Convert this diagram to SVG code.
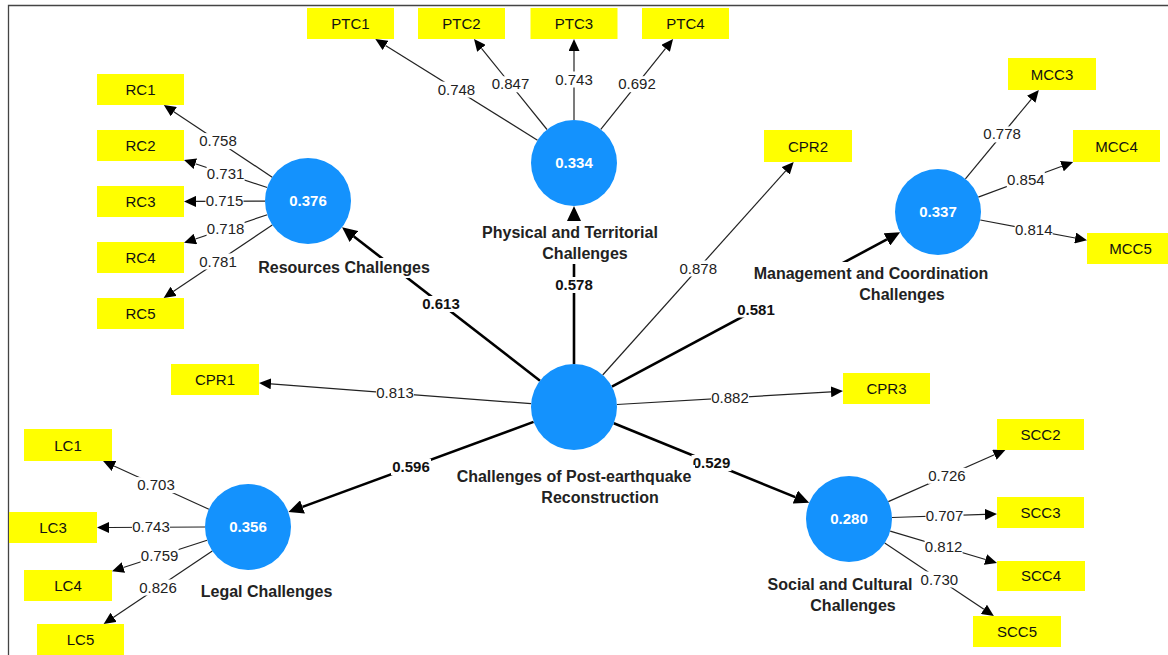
<svg xmlns="http://www.w3.org/2000/svg" width="1168" height="655" viewBox="0 0 1168 655">
<style>
  text { font-family: "Liberation Sans", Arial, sans-serif; }
  .ind { fill: #ffff00; }
  .indt { font-size: 15px; fill: #111; text-anchor: middle; }
  .lat { fill: #1492fd; }
  .latv { font-size: 15px; font-weight: bold; fill: #ffffff; text-anchor: middle; }
  .latn { font-size: 16px; font-weight: bold; fill: #222; text-anchor: middle; }
  .bg { fill: #ffffff; }
  .thin { stroke: #222; stroke-width: 1.2; fill: none; marker-end: url(#a); }
  .thick { stroke: #000; stroke-width: 2.6; fill: none; marker-end: url(#b); }
  .lt { font-size: 15px; fill: #222; text-anchor: middle; }
  .lb { font-size: 15px; font-weight: bold; fill: #111; text-anchor: middle; }
</style>
<defs>
  <marker id="a" viewBox="0 0 12 11" refX="0" refY="5.5" markerWidth="12" markerHeight="11" markerUnits="userSpaceOnUse" orient="auto">
    <path d="M0,0 L12,5.5 L0,11 z" fill="#000"/>
  </marker>
  <marker id="b" viewBox="0 0 15 14" refX="0" refY="7" markerWidth="15" markerHeight="14" markerUnits="userSpaceOnUse" orient="auto">
    <path d="M0,0 L15,7 L0,14 z" fill="#000"/>
  </marker>
</defs>
<rect x="0" y="0" width="1168" height="655" fill="#ffffff"/>
<path d="M8.5,655 L8.5,5.5 L1168,5.5" fill="none" stroke="#444" stroke-width="1.3"/>

<g id="connectors">
  <line class="thin" x1="272.2" y1="177.2" x2="173.8" y2="111.7"/>
  <line class="thin" x1="267.2" y1="187.5" x2="195.4" y2="163.7"/>
  <line class="thin" x1="265" y1="201.1" x2="196" y2="201.4"/>
  <line class="thin" x1="267.3" y1="214.7" x2="195.4" y2="239"/>
  <line class="thin" x1="272.3" y1="225" x2="173.6" y2="291.3"/>
  <line class="thin" x1="537.5" y1="140.2" x2="385.5" y2="45.4"/>
  <line class="thin" x1="547" y1="129.5" x2="481.5" y2="48.3"/>
  <line class="thin" x1="574" y1="120" x2="574" y2="51"/>
  <line class="thin" x1="600.8" y1="129.4" x2="665.6" y2="48.4"/>
  <line class="thin" x1="965.4" y1="178.8" x2="1031.2" y2="99.3"/>
  <line class="thin" x1="978.3" y1="197.1" x2="1061.9" y2="166.2"/>
  <line class="thin" x1="980.3" y1="220" x2="1075.2" y2="238"/>
  <line class="thin" x1="602.7" y1="375" x2="785.7" y2="170.9"/>
  <line class="thin" x1="531.1" y1="403.7" x2="271" y2="383.8"/>
  <line class="thin" x1="616.9" y1="404.5" x2="831" y2="391.8"/>
  <line class="thin" x1="208.9" y1="509.2" x2="114" y2="466"/>
  <line class="thin" x1="205" y1="527" x2="109" y2="527.5"/>
  <line class="thin" x1="207.1" y1="540.3" x2="123.4" y2="567.5"/>
  <line class="thin" x1="212.3" y1="551" x2="113.6" y2="617.3"/>
  <line class="thin" x1="888.3" y1="501.6" x2="994.4" y2="454.8"/>
  <line class="thin" x1="892" y1="517.5" x2="985" y2="514.4"/>
  <line class="thin" x1="890.2" y1="531.2" x2="985.5" y2="559.5"/>
  <line class="thin" x1="884.7" y1="542.9" x2="983.9" y2="609.3"/>

  <line class="thick" x1="540" y1="380.7" x2="353.9" y2="236.5"/>
  <line class="thick" x1="574" y1="364" x2="574" y2="221"/>
  <line class="thick" x1="611.9" y1="386.7" x2="886.9" y2="239.4"/>
  <line class="thick" x1="533.6" y1="421.9" x2="302.5" y2="506.9"/>
  <line class="thick" x1="613.8" y1="423.2" x2="795.3" y2="497.1"/>

  <g transform="translate(218,141.1)"><rect class="bg" x="-19" y="-8" width="38" height="16"/><text class="lt" y="5">0.758</text></g>
  <g transform="translate(225.6,173.7)"><rect class="bg" x="-19" y="-8" width="38" height="16"/><text class="lt" y="5">0.731</text></g>
  <g transform="translate(224.5,201.2)"><rect class="bg" x="-19" y="-8" width="38" height="16"/><text class="lt" y="5">0.715</text></g>
  <g transform="translate(225.6,228.7)"><rect class="bg" x="-19" y="-8" width="38" height="16"/><text class="lt" y="5">0.718</text></g>
  <g transform="translate(218,261.5)"><rect class="bg" x="-19" y="-8" width="38" height="16"/><text class="lt" y="5">0.781</text></g>
  <g transform="translate(456.4,89.6)"><rect class="bg" x="-19" y="-8" width="38" height="16"/><text class="lt" y="5">0.748</text></g>
  <g transform="translate(510.5,84.3)"><rect class="bg" x="-19" y="-8" width="38" height="16"/><text class="lt" y="5">0.847</text></g>
  <g transform="translate(574,79.5)"><rect class="bg" x="-19" y="-8" width="38" height="16"/><text class="lt" y="5">0.743</text></g>
  <g transform="translate(637,84.2)"><rect class="bg" x="-19" y="-8" width="38" height="16"/><text class="lt" y="5">0.692</text></g>
  <g transform="translate(1002.1,134.4)"><rect class="bg" x="-19" y="-8" width="38" height="16"/><text class="lt" y="5">0.778</text></g>
  <g transform="translate(1025.8,179.6)"><rect class="bg" x="-19" y="-8" width="38" height="16"/><text class="lt" y="5">0.854</text></g>
  <g transform="translate(1033.7,230.1)"><rect class="bg" x="-19" y="-8" width="38" height="16"/><text class="lt" y="5">0.814</text></g>
  <g transform="translate(698.2,268.5)"><rect class="bg" x="-19" y="-8" width="38" height="16"/><text class="lt" y="5">0.878</text></g>
  <g transform="translate(395,393.3)"><rect class="bg" x="-19" y="-8" width="38" height="16"/><text class="lt" y="5">0.813</text></g>
  <g transform="translate(730,397.8)"><rect class="bg" x="-19" y="-8" width="38" height="16"/><text class="lt" y="5">0.882</text></g>
  <g transform="translate(156,485.1)"><rect class="bg" x="-19" y="-8" width="38" height="16"/><text class="lt" y="5">0.703</text></g>
  <g transform="translate(151,527.3)"><rect class="bg" x="-19" y="-8" width="38" height="16"/><text class="lt" y="5">0.743</text></g>
  <g transform="translate(159.6,555.8)"><rect class="bg" x="-19" y="-8" width="38" height="16"/><text class="lt" y="5">0.759</text></g>
  <g transform="translate(158,587.5)"><rect class="bg" x="-19" y="-8" width="38" height="16"/><text class="lt" y="5">0.826</text></g>
  <g transform="translate(946.9,475.8)"><rect class="bg" x="-19" y="-8" width="38" height="16"/><text class="lt" y="5">0.726</text></g>
  <g transform="translate(944.5,515.8)"><rect class="bg" x="-19" y="-8" width="38" height="16"/><text class="lt" y="5">0.707</text></g>
  <g transform="translate(943.6,547)"><rect class="bg" x="-19" y="-8" width="38" height="16"/><text class="lt" y="5">0.812</text></g>
  <g transform="translate(939.3,579.5)"><rect class="bg" x="-19" y="-8" width="38" height="16"/><text class="lt" y="5">0.730</text></g>

  <g transform="translate(441,304)"><rect class="bg" x="-20" y="-8" width="40" height="16"/><text class="lb" y="5">0.613</text></g>
  <g transform="translate(574,285)"><rect class="bg" x="-20" y="-8" width="40" height="16"/><text class="lb" y="5">0.578</text></g>
  <g transform="translate(756,309.5)"><rect class="bg" x="-20" y="-8" width="40" height="16"/><text class="lb" y="5">0.581</text></g>
  <g transform="translate(411,467)"><rect class="bg" x="-20" y="-8" width="40" height="16"/><text class="lb" y="5">0.596</text></g>
  <g transform="translate(711.5,463)"><rect class="bg" x="-20" y="-8" width="40" height="16"/><text class="lb" y="5">0.529</text></g>
</g>

<g id="CPR">
  <circle class="lat" cx="574" cy="407" r="43"/>
  <rect class="bg" x="453" y="465" width="242" height="42"/>
  <text class="latn" x="574" y="481.5">Challenges of Post-earthquake</text>
  <text class="latn" x="600" y="502.5">Reconstruction</text>
</g>
<g id="RC">
  <circle class="lat" cx="308" cy="201" r="43"/>
  <text class="latv" x="308" y="206">0.376</text>
  <rect class="bg" x="256" y="258" width="176" height="20"/>
  <text class="latn" x="344" y="273">Resources Challenges</text>
</g>
<g id="PTC">
  <circle class="lat" cx="574" cy="163" r="43"/>
  <text class="latv" x="574" y="168">0.334</text>
  <rect class="bg" x="480" y="221" width="180" height="43"/>
  <text class="latn" x="570" y="237.5">Physical and Territorial</text>
  <text class="latn" x="585" y="259">Challenges</text>
</g>
<g id="MCC">
  <circle class="lat" cx="938" cy="212" r="43"/>
  <text class="latv" x="938" y="217">0.337</text>
  <rect class="bg" x="750" y="262" width="242" height="40"/>
  <text class="latn" x="871" y="279">Management and Coordination</text>
  <text class="latn" x="902" y="300">Challenges</text>
</g>
<g id="LC">
  <circle class="lat" cx="248" cy="527" r="43"/>
  <text class="latv" x="248" y="532">0.356</text>
  <rect class="bg" x="198" y="581" width="137" height="20"/>
  <text class="latn" x="266.5" y="596.5">Legal Challenges</text>
</g>
<g id="SCC">
  <circle class="lat" cx="849" cy="519" r="43"/>
  <text class="latv" x="849" y="524">0.280</text>
  <rect class="bg" x="766" y="574" width="148" height="41"/>
  <text class="latn" x="840" y="589.5">Social and Cultural</text>
  <text class="latn" x="853" y="610.5">Challenges</text>
</g>

<g id="RC1"><rect class="ind" x="97" y="74" width="87" height="31"/><text class="indt" x="140.5" y="95">RC1</text></g>
<g id="RC2"><rect class="ind" x="97" y="130" width="87" height="31"/><text class="indt" x="140.5" y="151">RC2</text></g>
<g id="RC3"><rect class="ind" x="97" y="186" width="87" height="31"/><text class="indt" x="140.5" y="207">RC3</text></g>
<g id="RC4"><rect class="ind" x="97" y="242" width="87" height="31"/><text class="indt" x="140.5" y="263">RC4</text></g>
<g id="RC5"><rect class="ind" x="97" y="298" width="87" height="31"/><text class="indt" x="140.5" y="319">RC5</text></g>

<g id="PTC1"><rect class="ind" x="307" y="8" width="87" height="31"/><text class="indt" x="350.5" y="29">PTC1</text></g>
<g id="PTC2"><rect class="ind" x="418" y="8" width="87" height="31"/><text class="indt" x="461.5" y="29">PTC2</text></g>
<g id="PTC3"><rect class="ind" x="530.5" y="8" width="87" height="31"/><text class="indt" x="574" y="29">PTC3</text></g>
<g id="PTC4"><rect class="ind" x="642" y="8" width="87" height="31"/><text class="indt" x="685.5" y="29">PTC4</text></g>

<g id="MCC3"><rect class="ind" x="1008" y="58" width="88" height="32"/><text class="indt" x="1052" y="79.5">MCC3</text></g>
<g id="MCC4"><rect class="ind" x="1073" y="130" width="87" height="32"/><text class="indt" x="1116.5" y="151.5">MCC4</text></g>
<g id="MCC5"><rect class="ind" x="1087" y="233" width="87" height="31"/><text class="indt" x="1130.5" y="254">MCC5</text></g>

<g id="CPR1"><rect class="ind" x="171" y="364" width="88" height="31"/><text class="indt" x="215" y="385">CPR1</text></g>
<g id="CPR2"><rect class="ind" x="764" y="130" width="88" height="32"/><text class="indt" x="808" y="151.5">CPR2</text></g>
<g id="CPR3"><rect class="ind" x="843" y="373" width="87" height="31"/><text class="indt" x="886.5" y="394">CPR3</text></g>

<g id="LC1"><rect class="ind" x="24" y="429" width="88" height="32"/><text class="indt" x="68" y="450.5">LC1</text></g>
<g id="LC3"><rect class="ind" x="9" y="512" width="88" height="31"/><text class="indt" x="53" y="533">LC3</text></g>
<g id="LC4"><rect class="ind" x="24" y="570" width="88" height="31"/><text class="indt" x="68" y="591">LC4</text></g>
<g id="LC5"><rect class="ind" x="37" y="624" width="87" height="31"/><text class="indt" x="80.5" y="645">LC5</text></g>

<g id="SCC2"><rect class="ind" x="997" y="419" width="87" height="31"/><text class="indt" x="1040.5" y="440">SCC2</text></g>
<g id="SCC3"><rect class="ind" x="997" y="497" width="87" height="31"/><text class="indt" x="1040.5" y="518">SCC3</text></g>
<g id="SCC4"><rect class="ind" x="997" y="561" width="88" height="30"/><text class="indt" x="1041" y="581">SCC4</text></g>
<g id="SCC5"><rect class="ind" x="973" y="616" width="88" height="31"/><text class="indt" x="1017" y="637">SCC5</text></g>
</svg>
